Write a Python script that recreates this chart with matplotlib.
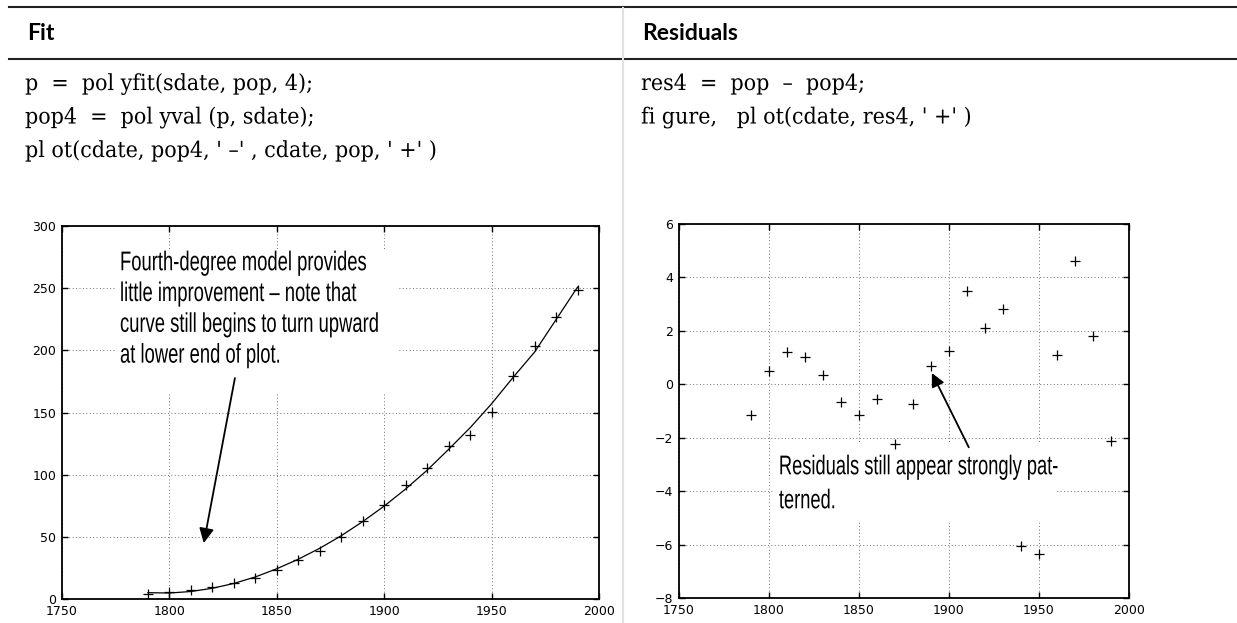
import matplotlib
matplotlib.use('Agg')
import matplotlib.pyplot as plt
from matplotlib import patheffects
from matplotlib.lines import Line2D
from matplotlib.patches import Rectangle
from matplotlib.transforms import Affine2D

# ---- data (US census, millions) ----
cdate = [1790, 1800, 1810, 1820, 1830, 1840, 1850, 1860, 1870, 1880, 1890,
         1900, 1910, 1920, 1930, 1940, 1950, 1960, 1970, 1980, 1990]
pop = [3.929, 5.308, 7.240, 9.638, 12.866, 17.069, 23.192, 31.443, 38.558,
       50.156, 62.948, 75.995, 91.972, 105.711, 123.203, 131.669, 150.697,
       179.323, 203.212, 226.505, 248.710]
# residuals
res4 = [-1.16, 0.51, 1.21, 1.01, 0.36, -0.67, -1.14, -0.55, -2.25, -0.72, 0.67,
        1.26, 3.48, 2.12, 2.82, -6.07, -6.34, 1.11, 4.61, 1.82, -2.13]
pop4 = [p - r for p, r in zip(pop, res4)]

fit_xticks = [1750, 1800, 1850, 1900, 1950, 2000]
fit_yticks = [0, 50, 100, 150, 200, 250, 300]
res_yticks = [-8, -6, -4, -2, 0, 2, 4, 6]

code_fit = ["p  =  pol yfit(sdate, pop, 4);",
            "pop4  =  pol yval (p, sdate);",
            "pl ot(cdate, pop4, ' \u2013' , cdate, pop, ' +' )"]
code_res = ["res4  =  pop  \u2013  pop4;",
            "fi gure,   pl ot(cdate, res4, ' +' )"]

note_fit = ("Fourth-degree model provides\nlittle improvement \u2013 note that\n"
            "curve still begins to turn upward\nat lower end of plot.")
note_res = "Residuals still appear strongly pat-\nterned."


class Squeeze(patheffects.AbstractPathEffect):
    """draw text narrower (condensed look)"""
    def __init__(self, sx):
        super().__init__()
        self.sx = sx

    def draw_path(self, renderer, gc, tpath, affine, rgbFace=None):
        x0, y0 = affine.transform((0, 0))
        sq = Affine2D().translate(-x0, 0).scale(self.sx, 1).translate(x0, 0)
        renderer.draw_path(gc, tpath, affine + sq, rgbFace)


W, H = 1237, 623
fig = plt.figure(figsize=(W / 100, H / 100), dpi=100, facecolor='white')


def fx(px):
    return px / W


def fy(py):
    return 1 - py / H


# ---- table header / rules ----
for yy in (7, 59):
    fig.add_artist(Line2D([fx(9), 1], [fy(yy), fy(yy)], transform=fig.transFigure,
                          color='#222222', lw=1.5))
fig.add_artist(Line2D([fx(623), fx(623)], [fy(8), 0], transform=fig.transFigure,
                      color='#e2e2e2', lw=1.5))

fig.text(fx(27), fy(33), "Fit", fontsize=16.5, fontweight='bold', family='Lato', va='center')
fig.text(fx(642), fy(33), "Residuals", fontsize=16.5, fontweight='bold', family='Lato', va='center')

for i, line in enumerate(code_fit):
    fig.text(fx(25), fy(84 + 33.5 * i), line, fontsize=16, family='DejaVu Serif',
             va='center', path_effects=[Squeeze(0.93)])
for i, line in enumerate(code_res):
    fig.text(fx(641), fy(84 + 33.5 * i), line, fontsize=16, family='DejaVu Serif',
             va='center', path_effects=[Squeeze(0.93)])


def style_axes(ax, yticks):
    ax.set_xlim(1750, 2000)
    ax.set_xticks(fit_xticks)
    ax.set_ylim(yticks[0], yticks[-1])
    ax.set_yticks(yticks)
    ax.set_axisbelow(True)
    ax.grid(True, color='#707070', linestyle=(0, (1, 2.5)), lw=0.7)
    ax.tick_params(direction='in', length=4.5, width=1, top=True, right=True,
                   labelsize=9, pad=4)
    for lbl in ax.get_xticklabels() + ax.get_yticklabels():
        lbl.set_family('DejaVu Sans')
    for s in ax.spines.values():
        s.set_linewidth(1.3)


# ---- left: fit ----
ax1 = fig.add_axes([fx(62), fy(599), 537 / W, 373 / H])
style_axes(ax1, fit_yticks)
ax1.add_patch(Rectangle((1775.5, 165.5), 130.5, 115, facecolor='white',
                        edgecolor='none', zorder=1))
ax1.plot(cdate, pop4, '-', color='black', lw=0.9, zorder=2)
ax1.plot(cdate, pop, '+', color='black', ms=6.5, mew=0.9, zorder=2)
ax1.text(1777, 280.5, note_fit, fontsize=19.5, family='Liberation Sans', va='top',
         linespacing=1.24, zorder=3, path_effects=[Squeeze(0.68)])
ax1.annotate('', xy=(1816, 45), xytext=(1830.5, 177.7),
             arrowprops=dict(arrowstyle='-|>', color='black', lw=1.3,
                             mutation_scale=22, shrinkA=0, shrinkB=0), zorder=3)

# ---- right: residuals ----
ax2 = fig.add_axes([fx(679), fy(598), 450 / W, 374 / H])
style_axes(ax2, res_yticks)
ax2.add_patch(Rectangle((1803, -5.1), 156, 2.9, facecolor='white',
                        edgecolor='none', zorder=1))
ax2.plot(cdate, res4, '+', color='black', ms=6.5, mew=0.9, zorder=2)
ax2.text(1805.5, -2.62, note_res, fontsize=19.5, family='Liberation Sans', va='top',
         linespacing=1.4, zorder=3, path_effects=[Squeeze(0.675)])
ax2.annotate('', xy=(1890.5, 0.42), xytext=(1911, -2.36),
             arrowprops=dict(arrowstyle='-|>', color='black', lw=1.3,
                             mutation_scale=20, shrinkA=0, shrinkB=0), zorder=3)

fig.savefig('out.png', dpi=100, facecolor='white')
